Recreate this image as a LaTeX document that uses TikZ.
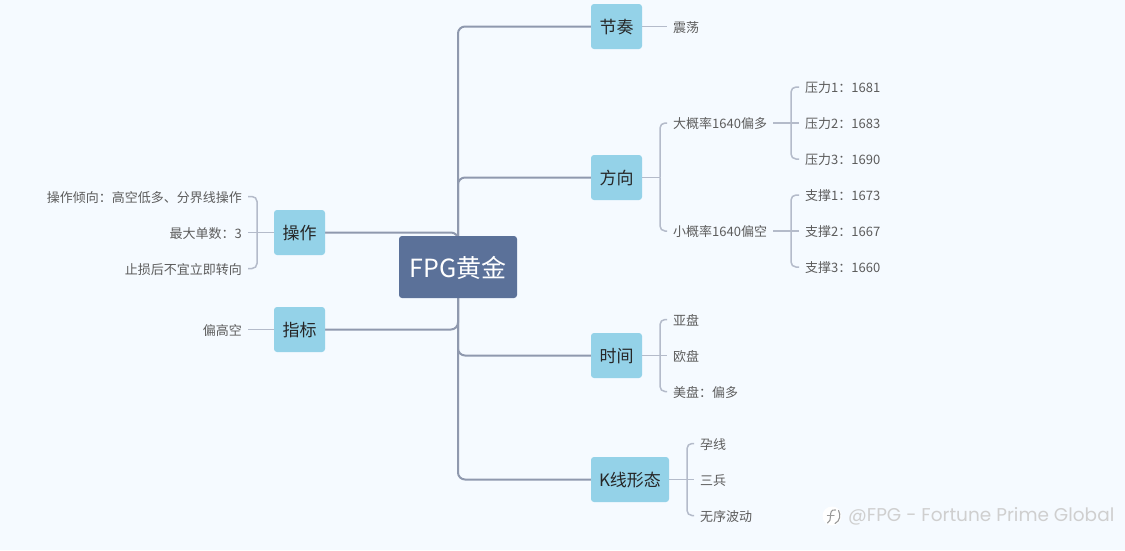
\documentclass[tikz,border=0pt]{standalone}
\usepackage{fontspec}
\setmainfont{Noto Sans CJK SC}
\newfontfamily\markfont{Poppins}
\usepackage{xcolor}
\usetikzlibrary{backgrounds}

\definecolor{pagebg}{HTML}{F5FAFF}
\definecolor{rootblue}{HTML}{5B7199}
\definecolor{topicblue}{HTML}{94D2E8}
\definecolor{trunkgray}{HTML}{8F99AE}
\definecolor{leafgray}{HTML}{B4BBCA}
\definecolor{leaftext}{HTML}{5C5C5C}

\tikzset{
    rootnode/.style={fill=rootblue, text=white, rounded corners=3pt, minimum width=118pt,
        minimum height=62pt, inner sep=0pt, text height=21pt, text depth=0pt,
        font=\fontsize{25}{30}\selectfont},
    topicnode/.style={fill=topicblue, text=black!85, rounded corners=3pt, minimum width=51pt,
        minimum height=45pt, inner sep=0pt, text height=14pt, text depth=0pt,
        font=\fontsize{17}{20}\selectfont},
    leafnode/.style={text=leaftext, inner xsep=6pt, inner ysep=0pt, text height=11pt,
        text depth=0pt, font=\fontsize{13}{15}\selectfont},
    trunkline/.style={draw=trunkgray, line width=2pt, rounded corners=7pt},
    leafline/.style={draw=leafgray, line width=1.5pt, rounded corners=5pt},
    markline/.style={draw=gray!80, line width=1.1pt, line cap=round},
}

\begin{document}
\begin{tikzpicture}[x=1pt, y=-1pt]
    \useasboundingbox (0, 0) rectangle (1125, 550);

    % Root and the six topics
    \node[rootnode] (root) at (458, 267) {FPG黄金};
    \node[topicnode] (jiezou) at (616.5, 26.5) {节奏};
    \node[topicnode] (fangxiang) at (616.5, 177.5) {方向};
    \node[topicnode] (shijian) at (616.5, 355.5) {时间};
    \node[topicnode, minimum width=78pt] (kxian) at (630, 479.5) {K线形态};
    \node[topicnode] (caozuo) at (299.5, 232.5) {操作};
    \node[topicnode] (zhibiao) at (299.5, 329.5) {指标};

    % Right side leaves
    \node[leafnode, anchor=west] (zhendang) at (667, 26.5) {震荡};
    \node[leafnode, anchor=west] (dagailv) at (667, 123) {大概率1640偏多};
    \node[leafnode, anchor=west] (xiaogailv) at (667, 231) {小概率1640偏空};
    \node[leafnode, anchor=west] (yali1) at (799, 87) {压力1：1681};
    \node[leafnode, anchor=west] (yali2) at (799, 123) {压力2：1683};
    \node[leafnode, anchor=west] (yali3) at (799, 159) {压力3：1690};
    \node[leafnode, anchor=west] (zhicheng1) at (799, 195) {支撑1：1673};
    \node[leafnode, anchor=west] (zhicheng2) at (799, 231) {支撑2：1667};
    \node[leafnode, anchor=west] (zhicheng3) at (799, 267) {支撑3：1660};
    \node[leafnode, anchor=west] (yapan) at (667, 319.5) {亚盘};
    \node[leafnode, anchor=west] (oupan) at (667, 355.5) {欧盘};
    \node[leafnode, anchor=west] (meipan) at (667, 391.5) {美盘：偏多};
    \node[leafnode, anchor=west] (yunxian) at (694, 443.5) {孕线};
    \node[leafnode, anchor=west] (sanbing) at (694, 479.5) {三兵};
    \node[leafnode, anchor=west] (wuxu) at (694, 515.5) {无序波动};

    % Left side leaves
    \node[leafnode, anchor=east] (qingxiang) at (248, 196.5) {操作倾向：高空低多、分界线操作};
    \node[leafnode, anchor=east] (danshu) at (248, 232.5) {最大单数：3};
    \node[leafnode, anchor=east] (zhisun) at (248, 268.5) {止损后不宜立即转向};
    \node[leafnode, anchor=east] (piangao) at (248, 329.5) {偏高空};

    % Fork points of the brackets
    \coordinate (fangxiangfork) at (660, 177.5);
    \coordinate (dafork) at (791, 123);
    \coordinate (xiaofork) at (791, 231);
    \coordinate (shijianfork) at (660, 355.5);
    \coordinate (kxianfork) at (687, 479.5);
    \coordinate (caozuofork) at (257, 232.5);

    \begin{scope}[on background layer]
        \fill[pagebg] (0, 0) rectangle (1125, 550);

        % Trunk from the root to the topics
        \draw[trunkline] (root.center) |- (jiezou.west);
        \draw[trunkline] (root.center) |- (fangxiang.west);
        \draw[trunkline] (root.center) |- (shijian.west);
        \draw[trunkline] (root.center) |- (kxian.west);
        \draw[trunkline] (root.center) |- (caozuo.east);
        \draw[trunkline] (root.center) |- (zhibiao.east);

        % Brackets on the right
        \draw[leafline] (jiezou.east) -- (zhendang.west);
        \draw[leafline] (fangxiang.east) -- (fangxiangfork);
        \draw[leafline] (fangxiangfork) |- (dagailv.west);
        \draw[leafline] (fangxiangfork) |- (xiaogailv.west);
        \draw[leafline] (dagailv.east) -- (yali2.west);
        \draw[leafline] (dafork) |- (yali1.west);
        \draw[leafline] (dafork) |- (yali3.west);
        \draw[leafline] (xiaogailv.east) -- (zhicheng2.west);
        \draw[leafline] (xiaofork) |- (zhicheng1.west);
        \draw[leafline] (xiaofork) |- (zhicheng3.west);
        \draw[leafline] (shijian.east) -- (oupan.west);
        \draw[leafline] (shijianfork) |- (yapan.west);
        \draw[leafline] (shijianfork) |- (meipan.west);
        \draw[leafline] (kxian.east) -- (sanbing.west);
        \draw[leafline] (kxianfork) |- (yunxian.west);
        \draw[leafline] (kxianfork) |- (wuxu.west);

        % Brackets on the left
        \draw[leafline] (caozuo.west) -- (danshu.east);
        \draw[leafline] (caozuofork) |- (qingxiang.east);
        \draw[leafline] (caozuofork) |- (zhisun.east);
        \draw[leafline] (zhibiao.west) -- (piangao.east);
    \end{scope}

    % Watermark, bottom right
    \fill[white] (832, 516) circle (9.5);
    \draw[markline] (835.5, 510) .. controls (831, 509) and (830.5, 513) .. (830.5, 516)
        .. controls (830.5, 519) and (830, 522) .. (827.5, 523);
    \draw[markline] (827.5, 515.5) -- (834, 515.5);
    \draw[markline] (838.5, 510.5) .. controls (841, 515) and (840, 521) .. (835, 523.5);
    \node[text=gray!38, inner sep=0pt, anchor=west, font=\markfont\fontsize{18.5}{20}\selectfont]
        (watermark) at (848, 516) {@FPG - Fortune Prime Global};
\end{tikzpicture}
\end{document}
